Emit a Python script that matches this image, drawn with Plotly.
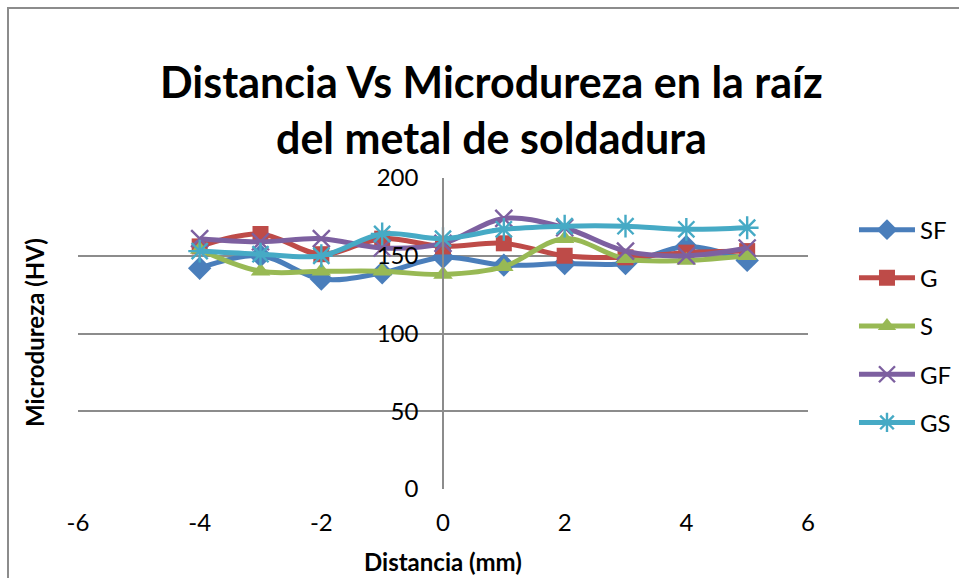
import plotly.graph_objects as go

# Distance from the weld centre (mm)
distancia = [-4, -3, -2, -1, 0, 1, 2, 3, 4, 5]

# Microhardness (HV) per condition
sf = [142, 150, 135, 139, 149, 144, 145, 145, 156, 147]
g = [156, 164, 151, 161, 156, 158, 150, 149, 152, 153]
s = [154, 140, 140, 140, 138, 143, 161, 148, 147, 150]
gf = [161, 159, 161, 155, 158, 174, 168, 153, 150, 155]
gs = [153, 151, 150, 164, 161, 167, 169, 169, 167, 168]

series_names = ["SF", "G", "S", "GF", "GS"]
series_values = [sf, g, s, gf, gs]
colors = ["#4A7EBB", "#BE4B48", "#98B954", "#7D60A0", "#46AAC5"]
symbols = ["diamond", "square", "triangle-up", "x-thin", "asterisk"]
sizes = [18, 16, 17, 17, 19]

x_ticks = [-6, -4, -2, 0, 2, 4, 6]
y_ticks = [0, 50, 100, 150, 200]

FONT = "Lato"
GRID = "#8C8C8C"

fig = go.Figure()
for i, (name, vals) in enumerate(zip(series_names, series_values)):
    thin = symbols[i] in ("x-thin", "asterisk")
    fig.add_trace(go.Scatter(
        x=distancia, y=vals, name=name, mode="lines+markers",
        legendgroup=name,
        line=dict(color=colors[i], width=5, shape="spline", smoothing=1.0),
        marker=dict(symbol=symbols[i], size=sizes[i], color=colors[i],
                    line=dict(color=colors[i], width=2.4 if thin else 0)),
    ))

fig.update_layout(
    width=959, height=578,
    margin=dict(l=78, r=151, t=178, b=89, autoexpand=False),
    paper_bgcolor="white", plot_bgcolor="white",
    font=dict(family=FONT, color="black", size=24),
    showlegend=True,
    legend=dict(x=1.063, xanchor="left", y=0.524, yanchor="middle",
                font=dict(family=FONT, size=24), tracegroupgap=14,
                itemwidth=56, bgcolor="rgba(0,0,0,0)"),
    xaxis=dict(range=[-6, 6], tickvals=x_ticks, ticktext=[str(v) for v in x_ticks],
               showgrid=False, zeroline=False, showline=False,
               ticks="", ticklabelstandoff=17,
               tickfont=dict(family=FONT, size=24)),
    yaxis=dict(range=[0, 200], tickvals=y_ticks, showgrid=True,
               gridcolor=GRID, gridwidth=1.5, zeroline=False,
               showline=True, linecolor=GRID, linewidth=1.5,
               anchor="free", position=0.5, ticks="",
               ticklabelstandoff=19,
               tickfont=dict(family=FONT, size=24)),
)

# Title in two lines
fig.add_annotation(text="<b>Distancia Vs Microdureza en la raíz</b>",
                   xref="paper", yref="paper", x=0.566, y=(489 - 82) / 311,
                   xanchor="center", yanchor="middle", showarrow=False,
                   font=dict(family=FONT, size=43, color="black"))
fig.add_annotation(text="<b>del metal de soldadura</b>",
                   xref="paper", yref="paper", x=0.566, y=(489 - 137) / 311,
                   xanchor="center", yanchor="middle", showarrow=False,
                   font=dict(family=FONT, size=43, color="black"))

# Axis titles
fig.add_annotation(text="<b>Distancia (mm)</b>", xref="paper", yref="paper",
                   x=0.5, y=(489 - 561) / 311, xanchor="center", yanchor="middle",
                   showarrow=False, font=dict(family=FONT, size=24, color="black"))
fig.add_annotation(text="<b>Microdureza (HV)</b>", xref="paper", yref="paper",
                   x=(34 - 78) / 730, y=(489 - 333) / 311, xanchor="center",
                   yanchor="middle", textangle=-90, showarrow=False,
                   font=dict(family=FONT, size=24, color="black"))

# Chart frame
fig.add_shape(type="rect", xref="paper", yref="paper",
              x0=(8 - 78) / 730, x1=(1000 - 78) / 730,
              y0=(489 - 620) / 311, y1=(489 - 8) / 311,
              line=dict(color="#8C8C8C", width=2), layer="below")

fig.write_html("out.html")
